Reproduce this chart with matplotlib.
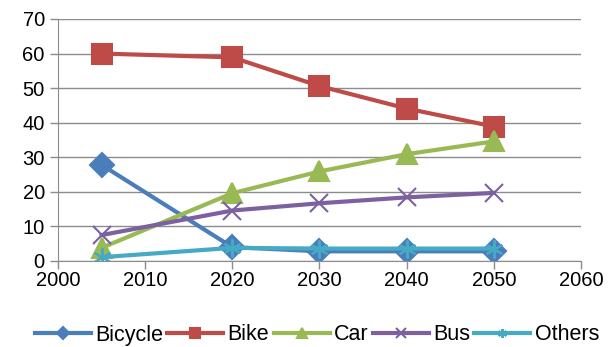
import matplotlib.pyplot as plt

plt.rcParams['font.family'] = ['Liberation Sans', 'DejaVu Sans']

years = [2005, 2020, 2030, 2040, 2050]
bicycle = [27.8, 4.0, 2.8, 2.8, 2.8]
bike = [60.0, 58.9, 50.6, 44.1, 38.9]
car = [3.8, 19.6, 25.9, 30.9, 34.6]
bus = [7.5, 14.6, 16.7, 18.4, 19.7]
others = [1.1, 3.8, 3.6, 3.6, 3.6]

fig = plt.figure(figsize=(6.12, 3.47), dpi=100)
ax = fig.add_axes([58/612, 1 - 261/347, 523/612, 242/347])

# name, data, colour, marker, size
series = [
    ("Bicycle", bicycle, "#4a7ebb", "D", 12),
    ("Bike", bike, "#be4b48", "s", 14),
    ("Car", car, "#98b954", "^", 15),
    ("Bus", bus, "#7d60a0", "x", 13),
    ("Others", others, "#46aac5", (6, 2, 0), 13),
]
for name, vals, col, mk, ms in series:
    ax.plot(years, vals, color=col, lw=3, label=name, marker=mk,
            ms=ms, mew=1.5)

ax.set_xlim(2000, 2060)
ax.set_ylim(0, 70)
ax.set_xticks(range(2000, 2061, 10))
ax.set_yticks(range(0, 71, 10))
ax.grid(axis='y', color='#8c8c8c', lw=1)
ax.set_axisbelow(True)
for s in ['top', 'right']:
    ax.spines[s].set_visible(False)
ax.spines['left'].set_color('#8c8c8c')
ax.spines['bottom'].set_color('#8c8c8c')
ax.tick_params(axis='both', colors='#8c8c8c', labelcolor='black',
               labelsize=14.5, length=6, width=1)
ax.tick_params(axis='x', pad=1)

fig.legend(loc='center', bbox_to_anchor=(317/612, 1 - 335/347), ncol=5,
           frameon=False, fontsize=15.5, handlelength=2.6, handletextpad=0.2,
           columnspacing=0.2, markerscale=0.5, borderaxespad=0)

fig.savefig("out.png", dpi=100)
